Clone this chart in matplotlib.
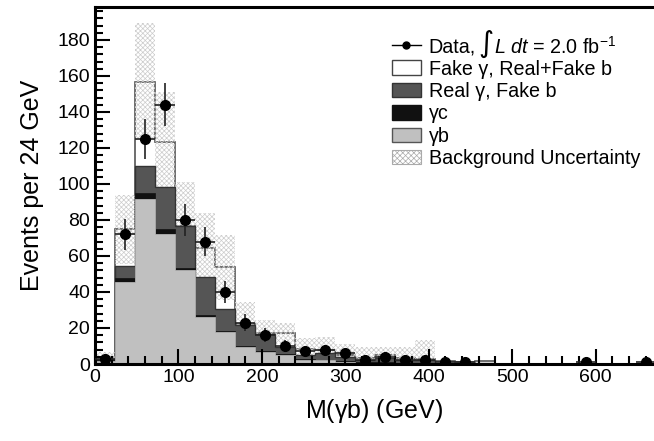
import numpy as np
import matplotlib.pyplot as plt
from matplotlib.patches import Patch
from matplotlib.lines import Line2D
from matplotlib.ticker import MultipleLocator

plt.rcParams['font.family'] = ['Liberation Sans', 'DejaVu Sans']
plt.rcParams['mathtext.fontset'] = 'custom'
plt.rcParams['mathtext.rm'] = 'Liberation Sans'
plt.rcParams['mathtext.it'] = 'Liberation Sans:italic'
plt.rcParams['hatch.linewidth'] = 0.5

# 24 GeV bins from 0 to 672 GeV
edges = np.arange(0, 673, 24)

# stacked backgrounds (per-bin heights, events per 24 GeV)
gamma_b = [1.8, 45.7, 91.7, 72.0, 52.2, 26.3, 17.6, 9.6, 6.8, 5.0, 2.2, 2.2, 1.3, 0.8,
           0.8, 0.5, 0.4, 0.3, 0.2, 0.2, 0, 0, 0, 0, 0, 0, 0, 0]
gamma_c = [0.3, 1.9, 3.1, 2.8, 1.0, 0.9, 0.6, 0.6, 0.5, 0.6, 0.4, 0.3, 0.2, 0.2,
           0.2, 0.1, 0.1, 0.1, 0.1, 0, 0, 0, 0, 0, 0, 0, 0, 0]
real_g_fake_b = [0.5, 6.8, 15.2, 23.7, 23.3, 20.9, 12.2, 11.5, 9.2, 4.0, 2.4, 3.4, 2.6, 1.2,
                 2.2, 1.4, 1.5, 0.4, 0.3, 0.5, 0, 0, 0, 0, 0, 0, 0, 0]
fake_g = [1.4, 20.4, 46.8, 24.7, 0.3, 16.2, 23.3, 0.3, 0.7, 7.4, 3.1, 1.9, 0.9, 0.9,
          1.8, 1.1, 1.0, 0.7, 0.6, 0.8, 0, 0, 0, 0, 0, 0, 0, 0]
bkg_unc = [2.8, 19.2, 32.5, 28.0, 24.5, 19.4, 18.0, 12.6, 7.3, 6.0, 6.3, 7.2, 6.0, 6.5,
           4.6, 6.5, 10.3, 0, 0, 0, 0, 0, 0, 0, 0, 0, 0, 0]

# observed events
data = [3, 72, 125, 144, 80, 68, 40, 23, 16, 10, 7, 8, 6, 2,
        4, 2, 2, 1, 1, 0, 0, 0, 0, 0, 1, 0, 0, 1]

gb = np.array(gamma_b)
lvl_c = gb + np.array(gamma_c)
lvl_r = lvl_c + np.array(real_g_fake_b)
total = lvl_r + np.array(fake_g)
unc = np.array(bkg_unc)
d = np.array(data, dtype=float)
centers = 0.5 * (edges[:-1] + edges[1:])

fig = plt.figure(figsize=(6.54, 4.41), dpi=100)
ax = fig.add_axes([0.1453, 0.1746, 0.8547, 0.8095])

ax.stairs(total, edges, fill=True, facecolor='white', edgecolor='#555555', lw=1.2)
ax.stairs(total + unc, edges, baseline=total - unc, fill=True, facecolor='none',
          edgecolor='#cccccc', hatch='xxxxxxx', lw=0)
ax.stairs(lvl_r, edges, fill=True, facecolor='#555555', edgecolor='#333333', lw=1.0)
ax.stairs(lvl_c, edges, fill=True, facecolor='#111111', edgecolor='#111111', lw=0.5)
ax.stairs(gb, edges, fill=True, facecolor='#c0c0c0', edgecolor='#c0c0c0', lw=0.5)

m = d > 0
ax.errorbar(centers[m], d[m], yerr=np.sqrt(d[m]), xerr=12, fmt='o', color='black',
            ecolor='#222222', elinewidth=1.2, markersize=7, capsize=0, zorder=5)

ax.set_xlim(0, 670)
ax.set_ylim(0, 198.3)
ax.xaxis.set_major_locator(MultipleLocator(100))
ax.xaxis.set_minor_locator(MultipleLocator(20))
ax.yaxis.set_major_locator(MultipleLocator(20))
ax.yaxis.set_minor_locator(MultipleLocator(4))
ax.tick_params(which='both', direction='in', width=1.5, labelsize=14, top=False, right=False)
ax.tick_params(which='major', length=11)
ax.tick_params(which='minor', length=6)
for s in ['left', 'bottom', 'top']:
    ax.spines[s].set_linewidth(2.2)
ax.spines['right'].set_visible(False)

ax.set_xlabel(r'M($\mathregular{\gamma}$b) (GeV)', fontsize=18, labelpad=8)
ax.set_ylabel('Events per 24 GeV', fontsize=18, labelpad=10)

handles = [
    Line2D([], [], color='black', marker='o', markersize=5, lw=1),
    Patch(facecolor='white', edgecolor='#444444'),
    Patch(facecolor='#555555', edgecolor='#333333'),
    Patch(facecolor='#111111', edgecolor='#111111'),
    Patch(facecolor='#c0c0c0', edgecolor='#555555'),
    Patch(facecolor='white', edgecolor='#aaaaaa', hatch='xxxxxx', lw=0.8),
]
labels = [
    'Data,',
    'Fake γ, Real+Fake b',
    'Real γ, Fake b',
    'γc',
    'γb',
    'Background Uncertainty',
]
leg = ax.legend(handles, labels, loc='upper left', bbox_to_anchor=(0.514, 0.943),
                frameon=False, fontsize=14.2, borderpad=0, labelspacing=0.17,
                handlelength=1.45, handleheight=0.75, handletextpad=0.4)

# big integral sign and luminosity after "Data,"
fig.canvas.draw()
bb = leg.get_texts()[0].get_window_extent()
inv = fig.transFigure.inverted()
x0, ymid = inv.transform((bb.x1 + 2, 0.5 * (bb.y0 + bb.y1) + 3))
integ = fig.text(x0, ymid, '∫', fontsize=21, family='DejaVu Sans', va='center', ha='left')
ib = integ.get_window_extent(renderer=fig.canvas.get_renderer())
x1, ymid2 = inv.transform((ib.x1 + 1, 0.5 * (bb.y0 + bb.y1)))
fig.text(x1, ymid2, r'$L\ dt$ = 2.0 fb$^{\mathregular{-1}}$', fontsize=14.2, va='center', ha='left')

fig.savefig('out.png', dpi=100)
